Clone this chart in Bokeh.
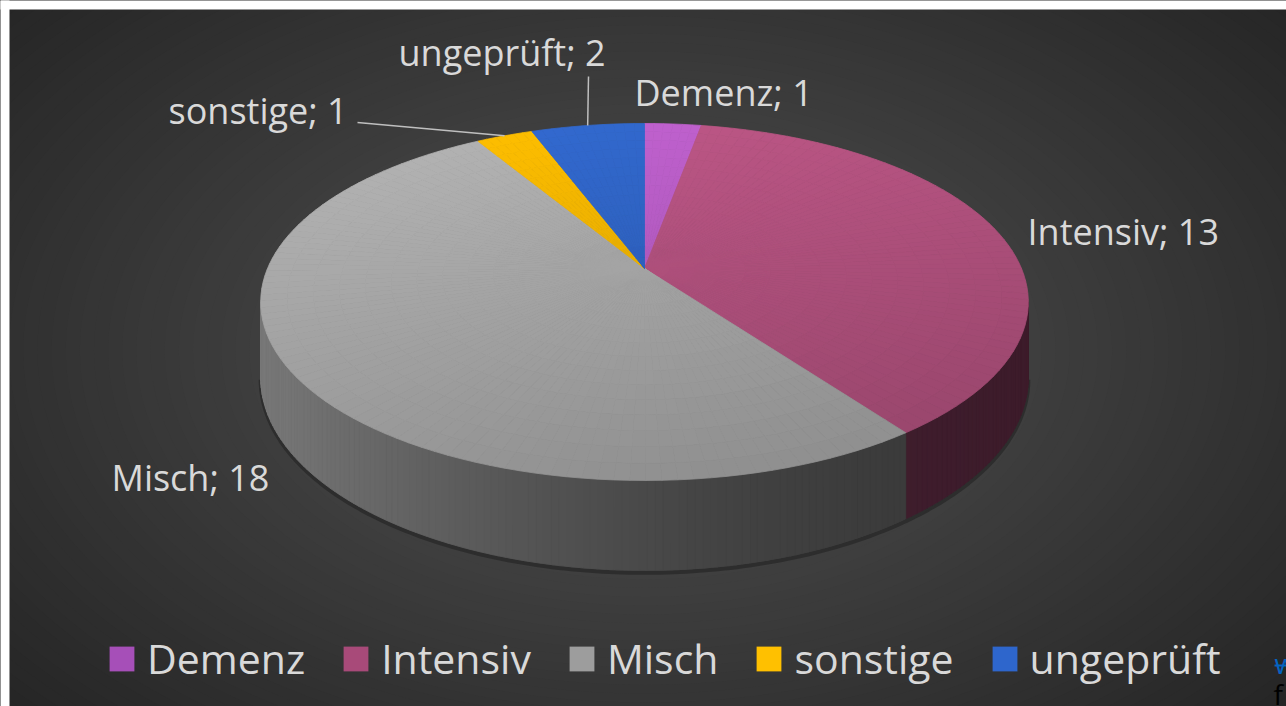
import numpy as np
from bokeh.plotting import figure
from bokeh.models import Range1d, Legend, LegendItem, ColumnDataSource
from bokeh.embed import file_html
from bokeh.resources import INLINE
from bokeh.core.properties import value

# ---------------- data ----------------
categories = ["Demenz", "Intensiv", "Misch", "sonstige", "ungeprüft"]
counts = [1, 13, 18, 1, 2]
slice_colors = ["#b65cc4", "#b3527f", "#a8a8a8", "#efb300", "#2f63c3"]
legend_colors = ["#a64fb8", "#a84a79", "#9d9d9d", "#ffc000", "#2e66cc"]

# ---------------- layout / style ----------------
W, H = 1286, 706
FONT = "Open Sans"
LABEL_COLOR = "#d9d9d9"
label_pos = {"Demenz": (634, 92), "Intensiv": (1027, 231), "Misch": (111, 477),
             "sonstige": (168, 110), "ungeprüft": (398, 52)}
leader_from = {"sonstige": (357, 122), "ungeprüft": (588, 76)}


def hex2rgb(h):
    h = h.lstrip("#")
    return np.array([int(h[i:i + 2], 16) for i in (0, 2, 4)], dtype=float)


def rgb2hex(c):
    c = np.clip(np.round(c), 0, 255).astype(int)
    return "#%02x%02x%02x" % tuple(c)


def shade(h, f):
    return rgb2hex(hex2rgb(h) * f)


p = figure(width=W, height=H, x_range=Range1d(0, W), y_range=Range1d(H, 0),
           output_backend="svg", toolbar_location=None, min_border=0,
           x_axis_location=None, y_axis_location=None,
           background_fill_color="#252525", border_fill_color="#262626",
           outline_line_color=None)
p.grid.grid_line_color = None

# ---------------- background radial gradient ----------------
gcx, gcy = 645.0, 350.0
A, B = 900.0, 560.0
inner = hex2rgb("#535353")
outer = hex2rgb("#242424")
ds = np.linspace(1.1, 0.0, 70, endpoint=False)
bg_cols = [rgb2hex(outer + (inner - outer) * (1 - min(d, 1.0)) ** 1.05) for d in ds]
p.quad(left=[-20], right=[W + 20], top=[-20], bottom=[H + 20],
       fill_color="#242424", line_color=None)
p.ellipse(x=gcx, y=gcy, width=list(2 * A * ds), height=list(2 * B * ds),
          fill_color=bg_cols, line_color=None)
p.quad(left=[-20, -20], right=[9, W + 20], top=[-20, -20], bottom=[H + 20, 9],
       fill_color="white", line_color=None)

# ---------------- 3D pie geometry ----------------
total = float(sum(counts))
ends = np.cumsum(counts) / total * 360.0
starts = ends - np.array(counts) / total * 360.0
mids = (starts + ends) / 2

cx, cy = 644.0, 268.0
SX, SY, K, DROP = 377.0, 172.2, 0.1877, 73.0


def proj(theta, r=1.0, down=0.0):
    th = np.radians(theta)
    X = r * np.sin(th)
    Z = r * np.cos(th)
    den = 1 + K * Z
    return cx + SX * X / den, cy - SY * Z / den + down / den


# side walls (front, visible part)
vis0 = np.degrees(np.arccos(-K))
vis1 = 360.0 - vis0
sx, sy, sc = [], [], []
for i in range(len(categories)):
    a = max(starts[i], vis0)
    b = min(ends[i], vis1)
    if b <= a:
        continue
    n = int(np.ceil(b - a))
    e = np.linspace(a, b, n + 1)
    for t0, t1 in zip(e[:-1], e[1:]):
        x0, y0 = proj(t0)
        x1, y1 = proj(t1)
        x2, y2 = proj(t1, down=DROP)
        x3, y3 = proj(t0, down=DROP)
        xm = (x0 + x1) / 2
        f = 0.34 + 0.38 * ((1028 - xm) / 768.0) ** 2
        sx.append([x0, x1, x2, x3])
        sy.append([y0, y1, y2, y3])
        sc.append(shade(slice_colors[i], f))

# soft dark rim under the side wall
rim = np.linspace(vis0, vis1, 200)
rx, ry = proj(rim, down=DROP + 2.0)
p.line(list(rx), list(ry), line_color="#1c1c1c", line_width=4, line_alpha=0.5)
p.patches(sx, sy, fill_color=sc, line_color=sc, line_width=0.8)

# top faces
rings = np.linspace(0, 1, 16)
tx, ty, tc = [], [], []
for i in range(len(categories)):
    span = ends[i] - starts[i]
    n = max(2, int(np.ceil(span / 2.0)))
    e = np.linspace(starts[i], ends[i], n + 1)
    for t0, t1 in zip(e[:-1], e[1:]):
        for r0, r1 in zip(rings[:-1], rings[1:]):
            p0 = proj(t0, r0); p1 = proj(t1, r0)
            p2 = proj(t1, r1); p3 = proj(t0, r1)
            xm, ym = proj((t0 + t1) / 2, (r0 + r1) / 2)
            f = 1.05 - 0.19 * (ym - 123) / 357.0 - 0.04 * (xm - 644) / 384.0
            tx.append([p0[0], p1[0], p2[0], p3[0]])
            ty.append([p0[1], p1[1], p2[1], p3[1]])
            tc.append(shade(slice_colors[i], f))
p.patches(tx, ty, fill_color=tc, line_color=tc, line_width=0.8)

# ---------------- data labels & leader lines ----------------
for i, c in enumerate(categories):
    if c in leader_from:
        x0, y0 = leader_from[c]
        x1, y1 = proj(mids[i])
        p.segment(x0=[x0], y0=[y0], x1=[x1], y1=[y1], line_color="#bfbfbf", line_width=1.5)

lab_x = [label_pos[c][0] for c in categories]
lab_y = [label_pos[c][1] for c in categories]
lab_t = [f"{c}; {v}" for c, v in zip(categories, counts)]
p.text(x=lab_x, y=lab_y, text=lab_t, text_font=value(FONT), text_font_size="36px",
       text_color=LABEL_COLOR, text_align="left", text_baseline="middle")

# ---------------- legend ----------------
nan = [np.nan] * len(categories)
src = ColumnDataSource(dict(left=nan, right=nan, top=nan, bottom=nan, color=legend_colors))
r = p.quad(left="left", right="right", top="top", bottom="bottom", fill_color="color",
           line_color=None, source=src)
items = [LegendItem(label=c, renderers=[r], index=i) for i, c in enumerate(categories)]
legend = Legend(items=items, orientation="horizontal", location=(106, 20),
                glyph_width=31, glyph_height=31, label_standoff=10, spacing=35,
                padding=0, margin=0, background_fill_alpha=0, border_line_color=None,
                label_text_font=FONT, label_text_font_size="41px",
                label_text_color=LABEL_COLOR)
p.add_layout(legend)

# ---------------- clipped fragments at bottom right ----------------
p.text(x=[1274], y=[662], text=["w"], text_font=value(FONT), text_font_size="28px",
       text_color="#0563c1", text_align="left", text_baseline="alphabetic")
p.segment(x0=[1274], y0=[665], x1=[W + 5], y1=[665], line_color="#0563c1", line_width=2)
p.text(x=[1273], y=[693], text=["f"], text_font=value(FONT), text_font_size="28px",
       text_color="#000000", text_align="left", text_baseline="alphabetic")

open("out.html", "w").write(file_html(p, INLINE))
